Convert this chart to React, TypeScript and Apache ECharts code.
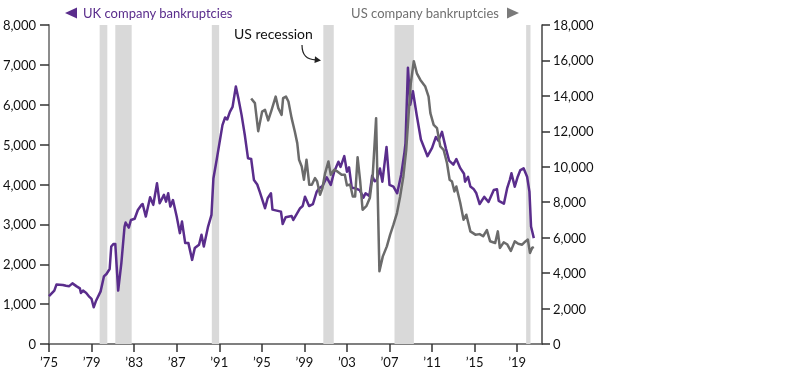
import React, { useEffect, useRef } from "react";
import * as echarts from "echarts";

const UK_SERIES: [number, number][] = [
  [1975.0, 1200], [1975.5, 1340], [1975.7, 1490], [1976.3, 1480], [1976.6, 1460], [1976.9, 1450],
  [1977.2, 1520], [1977.6, 1445], [1977.9, 1395], [1978.0, 1280], [1978.2, 1340], [1978.5, 1280],
  [1978.8, 1180], [1979.0, 1130], [1979.2, 920], [1979.4, 1070], [1979.85, 1320], [1980.16, 1695],
  [1980.4, 1755], [1980.7, 1880], [1980.85, 2445], [1981.07, 2510], [1981.23, 2510], [1981.5, 1340],
  [1981.8, 2030], [1982.1, 2945], [1982.2, 3045], [1982.5, 2920], [1982.7, 3110], [1983.05, 3140],
  [1983.35, 3360], [1983.7, 3490], [1983.8, 3510], [1984.1, 3195], [1984.5, 3680], [1984.8, 3490],
  [1985.15, 4030], [1985.4, 3530], [1985.8, 3740], [1986.0, 3570], [1986.2, 3780], [1986.4, 3445],
  [1986.65, 3610], [1987.0, 3195], [1987.3, 2780], [1987.5, 3070], [1987.8, 2530], [1988.1, 2530],
  [1988.45, 2110], [1988.7, 2405], [1989.1, 2490], [1989.33, 2740], [1989.55, 2445], [1989.95, 2945],
  [1990.27, 3240], [1990.45, 4150], [1990.75, 4610], [1991.3, 5490], [1991.55, 5680], [1991.75, 5630],
  [1992.0, 5820], [1992.25, 5945], [1992.56, 6460], [1992.8, 6155], [1993.1, 5740], [1993.4, 5240],
  [1993.7, 4660], [1994.0, 4640], [1994.26, 4110], [1994.57, 4000], [1994.8, 3820], [1995.3, 3405],
  [1995.55, 3655], [1995.86, 3780], [1996.0, 3370], [1996.8, 3320], [1996.96, 3010], [1997.24, 3180],
  [1997.8, 3210], [1997.96, 3110], [1998.6, 3405], [1998.84, 3460], [1999.06, 3695], [1999.44, 3460],
  [1999.8, 3510], [2000.16, 3820], [2000.38, 3905], [2000.7, 3960], [2001.1, 4180], [2001.48, 3990],
  [2001.8, 4320], [2002.2, 4570], [2002.4, 4440], [2002.75, 4712], [2003.0, 4320], [2003.2, 4430],
  [2003.45, 3920], [2003.77, 3905], [2004.2, 3860], [2004.55, 3670], [2004.75, 3780], [2005.1, 3710],
  [2005.37, 4220], [2005.6, 4080], [2005.8, 4112], [2006.1, 4400], [2006.33, 4070], [2006.72, 4940],
  [2007.0, 3990], [2007.37, 3945], [2007.72, 3780], [2008.1, 4250], [2008.4, 4800], [2008.5, 5030],
  [2008.73, 6930], [2008.95, 6000], [2009.2, 6340], [2009.55, 5750], [2009.95, 5130], [2010.2, 4960],
  [2010.57, 4710], [2011.0, 4920], [2011.35, 5190], [2011.6, 5100], [2011.93, 5320], [2012.3, 4900],
  [2012.6, 4600], [2013.0, 4500], [2013.28, 4640], [2013.65, 4410], [2014.0, 4270], [2014.1, 4070],
  [2014.38, 4190], [2014.6, 3950], [2014.9, 3890], [2015.16, 3780], [2015.47, 3510], [2015.9, 3690],
  [2016.3, 3560], [2016.8, 3860], [2017.1, 3880], [2017.26, 3590], [2017.75, 3520], [2018.05, 3900],
  [2018.3, 4110], [2018.46, 4280], [2018.77, 3945], [2019.05, 4195], [2019.3, 4362], [2019.6, 4405],
  [2019.93, 4195], [2020.15, 3820], [2020.3, 2945], [2020.56, 2655],
];

const US_SERIES: [number, number][] = [
  [1994.0, 13850], [1994.35, 13590], [1994.66, 12010], [1995.03, 13115], [1995.3, 13210], [1995.6, 12620],
  [1995.9, 13170], [1996.3, 13960], [1996.55, 13310], [1996.86, 12930], [1997.0, 13870], [1997.27, 13960],
  [1997.5, 13680], [1997.8, 12745], [1998.1, 11990], [1998.33, 11335], [1998.5, 10395], [1998.75, 10020],
  [1998.96, 9270], [1999.2, 10395], [1999.46, 8985], [1999.7, 8985], [2000.0, 9365], [2000.2, 9170],
  [2000.47, 8420], [2000.7, 8800], [2000.95, 9645], [2001.26, 10300], [2001.48, 9550], [2001.8, 9830],
  [2002.1, 9735], [2002.5, 9550], [2002.8, 9550], [2003.0, 8950], [2003.3, 9000], [2003.55, 8325],
  [2003.77, 8325], [2004.0, 10540], [2004.24, 9200], [2004.47, 7575], [2004.84, 7800], [2005.15, 8235],
  [2005.43, 9600], [2005.74, 12745], [2006.05, 4100], [2006.37, 4945], [2006.75, 5510], [2007.06, 6170],
  [2007.37, 6730], [2007.7, 7390], [2008.0, 8325], [2008.3, 9455], [2008.57, 10960], [2008.78, 12830],
  [2009.0, 14715], [2009.28, 15960], [2009.57, 15275], [2009.9, 14900], [2010.36, 14525], [2010.67, 13960],
  [2010.84, 13025], [2011.15, 12365], [2011.46, 12180], [2011.77, 11145], [2012.08, 10960], [2012.4, 10210],
  [2012.65, 9270], [2012.87, 9170], [2013.1, 8610], [2013.28, 8890], [2013.65, 7955], [2013.96, 7015],
  [2014.22, 7295], [2014.6, 6355], [2015.07, 6170], [2015.47, 6200], [2015.8, 6080], [2016.15, 6430],
  [2016.45, 5800], [2016.93, 5700], [2017.18, 6355], [2017.37, 5420], [2017.73, 5735], [2018.05, 5630],
  [2018.4, 5250], [2018.77, 5790], [2019.1, 5660], [2019.46, 5605], [2019.77, 5790], [2020.0, 5890],
  [2020.2, 5140], [2020.4, 5420], [2020.56, 5475],
];

const RECESSIONS: [number, number][] = [
  [1979.76, 1980.48],
  [1981.23, 1982.77],
  [1990.3, 1990.99],
  [2000.78, 2001.76],
  [2007.47, 2009.29],
  [2019.84, 2020.25],
];

const X_TICKS = [1975, 1979, 1983, 1987, 1991, 1995, 1999, 2003, 2007, 2011, 2015, 2019];
const X_MIN = 1975;
const X_MAX = 2021.33;

const UK_LABEL = "UK company bankruptcies";
const US_LABEL = "US company bankruptcies";
const RECESSION_LABEL = "US recession";

const PURPLE = "#5a2d8c";
const GREY = "#6b6b6b";
const FONT = "Lato, 'Open Sans', sans-serif";

export default function App() {
  const ref = useRef<HTMLDivElement>(null);
  useEffect(() => {
    if (!ref.current) return;
    const chart = echarts.init(ref.current, undefined, { renderer: "svg" });
    const fmt = (v: number) => Math.round(v).toLocaleString("en-US");
    chart.setOption({
      animation: false,
      grid: { left: 49, right: 258, top: 25, bottom: 30, containLabel: false, outerBoundsMode: "none" },
      xAxis: {
        type: "value",
        min: X_MIN,
        max: X_MAX,
        splitLine: { show: false },
        axisLine: { show: true, lineStyle: { color: "#555", width: 1.5 } },
        axisTick: { show: true, customValues: X_TICKS, length: 8, lineStyle: { color: "#333", width: 1.5 } },
        axisLabel: {
          customValues: X_TICKS,
          formatter: (v: number) => "\u2019" + String(Math.round(v)).slice(2),
          color: "#111",
          fontFamily: FONT,
          fontSize: 13,
          margin: 11,
        },
      },
      yAxis: [
        {
          type: "value",
          min: 0,
          max: 8000,
          interval: 1000,
          position: "left",
          splitLine: { show: false },
          axisLine: { show: true, lineStyle: { color: "#8c8c8c", width: 2 } },
          axisTick: { show: true, length: 9, lineStyle: { color: "#333", width: 1.5 } },
          axisLabel: { formatter: fmt, color: "#111", fontFamily: FONT, fontSize: 13, margin: 13 },
        },
        {
          type: "value",
          min: 0,
          max: 18000,
          interval: 2000,
          position: "right",
          splitLine: { show: false },
          axisLine: { show: true, lineStyle: { color: "#444", width: 1.5 } },
          axisTick: { show: true, length: 8, lineStyle: { color: "#333", width: 1.5 } },
          axisLabel: { formatter: fmt, color: "#111", fontFamily: FONT, fontSize: 13, margin: 11 },
        },
      ],
      series: [
        {
          type: "line",
          name: "recessions",
          data: [],
          z: 1,
          silent: true,
          markArea: {
            silent: true,
            itemStyle: { color: "#d9d9d9", opacity: 1 },
            data: RECESSIONS.map(([a, b]) => [{ xAxis: a }, { xAxis: b }]),
          },
        },
        {
          type: "line",
          name: UK_LABEL,
          yAxisIndex: 0,
          data: UK_SERIES,
          showSymbol: false,
          z: 3,
          lineStyle: { color: PURPLE, width: 2.5, join: "round" },
        },
        {
          type: "line",
          name: US_LABEL,
          yAxisIndex: 1,
          data: US_SERIES,
          showSymbol: false,
          z: 4,
          lineStyle: { color: GREY, width: 2.5, join: "round" },
        },
      ],
      graphic: [
        { type: "polygon", shape: { points: [[65, 13], [77, 7.5], [77, 18.5]] }, style: { fill: PURPLE } },
        {
          type: "text", x: 83, y: 13,
          style: { text: UK_LABEL, fill: PURPLE, font: `13px ${FONT}`, textVerticalAlign: "middle" },
        },
        {
          type: "text", x: 499, y: 13,
          style: { text: US_LABEL, fill: "#707070", font: `13px ${FONT}`, textAlign: "right", textVerticalAlign: "middle" },
        },
        { type: "polygon", shape: { points: [[507, 7.5], [507, 18.5], [519, 13]] }, style: { fill: "#7a7a7a" } },
        {
          type: "text", x: 234, y: 33,
          style: { text: RECESSION_LABEL, fill: "#111", font: `14px ${FONT}`, textVerticalAlign: "middle" },
        },
        {
          type: "bezierCurve",
          shape: { x1: 302, y1: 45, cpx1: 302, cpy1: 60, x2: 316, y2: 59.8 },
          style: { stroke: "#222", lineWidth: 1.2, fill: null },
        },
        { type: "polygon", shape: { points: [[315, 56.3], [321, 60.5], [314.5, 63]] }, style: { fill: "#222" } },
      ],
    });
    return () => chart.dispose();
  }, []);
  return <div ref={ref} style={{ position: "fixed", left: 0, top: 0, width: 800, height: 374 }} />;
}
